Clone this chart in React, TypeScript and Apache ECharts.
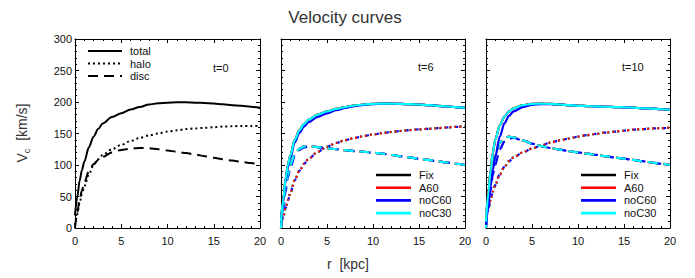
import React, { useEffect, useRef } from "react";
import * as echarts from "echarts";

// radius grid (kpc)
const R = [0, 0.25, 0.5, 0.75, 1, 1.5, 2, 2.5, 3, 4, 5, 6, 7, 8, 9, 10, 11, 12, 13, 14, 15, 16, 17, 18, 19, 20];

// t = 0
const total0 = [20, 50, 75, 92, 105, 128, 145, 157, 166, 176, 182, 188, 192, 196, 198, 199, 199.5, 199.5, 199, 198.5, 197.5, 196.5, 195, 194, 192.5, 191];
const halo0 = [5, 22, 40, 54, 66, 85, 100, 109, 116, 125, 132, 138, 143, 147, 150, 153, 155, 157, 158, 159, 160, 161, 161.5, 162, 162, 162];
const disc0 = [0, 25, 45, 60, 72, 90, 101, 108, 113, 120, 124, 126, 127, 126.5, 125, 123, 121, 119, 116.5, 114, 111.5, 109, 107, 105, 103, 101];

// t = 6
const total6 = [10, 45, 78, 100, 115, 140, 155, 165, 172, 180, 185, 189, 192, 194.5, 196, 197, 197.5, 197.5, 197, 196.5, 196, 195, 194, 193, 192, 191];
const total6NoC60 = [10, 42, 74, 96, 111, 136, 151, 161, 168, 176.5, 182, 187, 190.5, 193.5, 195.5, 196.5, 197.5, 197.5, 197, 196.5, 196, 195, 194, 193, 192, 191];
const halo6 = [5, 18, 32, 44, 55, 76, 91, 102, 110, 121, 129, 135, 139.5, 143, 146, 148.5, 150.5, 152.5, 154, 155.5, 156.5, 157.5, 158.5, 159.5, 160.5, 161.5];
const disc6 = [0, 35, 65, 85, 100, 117, 126, 129.5, 130, 128.5, 126.5, 125, 123.5, 122, 121, 119.5, 118, 116, 114, 112, 110, 108, 106, 104, 102, 100];
const disc6NoC60 = [0, 30, 58, 80, 95, 114, 124, 128, 129.5, 128.5, 126.5, 125, 123.5, 122, 121, 119.5, 118, 116, 114, 112, 110, 108, 106, 104, 102, 100];

// t = 10
const total10 = [10, 55, 92, 120, 140, 163, 177, 185, 190, 195, 197, 197.5, 197, 196, 195, 194, 193.5, 193, 192.5, 192, 191.5, 191, 190, 189.5, 188.5, 188];
const total10NoC60 = [5, 35, 66, 92, 113, 145, 166, 178, 185, 192, 195.5, 196.5, 196.5, 196, 195, 194, 193.5, 193, 192.5, 192, 191.5, 191, 190, 189.5, 188.5, 188];
const halo10 = [10, 30, 45, 58, 68, 85, 97, 106, 112, 120, 126, 131, 135.5, 139, 142, 145, 147.5, 149.5, 151.5, 153, 154.5, 156, 157, 158, 158.5, 159];
const disc10 = [0, 40, 75, 100, 115, 135, 143, 145, 144, 139, 134, 130, 127, 124.5, 122, 120, 118, 116, 114, 112, 110, 108, 106, 104, 102, 100];
const disc10NoC60 = [0, 30, 60, 85, 100, 125, 137, 142, 143, 139, 134, 130, 127, 124.5, 122, 120, 118, 116, 114, 112, 110, 108, 106, 104, 102, 100];

const models = ["Fix", "A60", "noC60", "noC30"];
const modelColors = ["#000000", "#ff0000", "#0000ff", "#00ffff"];
const components0 = ["total", "halo", "disc"];
const timeLabels = ["t=0", "t=6", "t=10"];
const xTicks = [0, 20];
const yTicks = [0, 300];

const FONT = "Liberation Sans, Arial, sans-serif";
const DOT = [2, 3];
const DASH = [10, 6];

const grids = [
  { left: 75, top: 39, width: 185, height: 189 },
  { left: 281, top: 39, width: 184, height: 189 },
  { left: 486, top: 39, width: 184, height: 189 },
];

function pts(arr: number[]) {
  return R.map((r, i) => [r, arr[i]]);
}

export default function App() {
  const ref = useRef<HTMLDivElement>(null);
  useEffect(() => {
    if (!ref.current) return;
    const chart = echarts.init(ref.current, null, { renderer: "svg" });

    const axisBase = {
      type: "value",
      axisLine: { show: true, onZero: false, lineStyle: { color: "#000", width: 1 } },
      axisTick: { show: true, inside: true, length: 4, lineStyle: { color: "#000" } },
      minorTick: { show: true, splitNumber: 5, length: 2, lineStyle: { color: "#000" } },
      splitLine: { show: false },
    };
    const xAxes: any[] = [];
    const yAxes: any[] = [];
    grids.forEach((_, i) => {
      xAxes.push({
        ...axisBase,
        gridIndex: i,
        min: xTicks[0],
        max: xTicks[1],
        interval: 5,
        position: "bottom",
        axisLabel: { fontSize: 11, color: "#111", fontFamily: FONT, margin: 7 },
      });
    });
    grids.forEach((_, i) => {
      xAxes.push({
        ...axisBase,
        gridIndex: i,
        min: xTicks[0],
        max: xTicks[1],
        interval: 5,
        position: "top",
        axisLabel: { show: false },
      });
    });
    grids.forEach((_, i) => {
      yAxes.push({
        ...axisBase,
        gridIndex: i,
        min: yTicks[0],
        max: yTicks[1],
        interval: 50,
        position: "left",
        axisLabel: { show: i === 0, fontSize: 11, color: "#111", fontFamily: FONT, margin: 3 },
      });
    });
    grids.forEach((_, i) => {
      yAxes.push({
        ...axisBase,
        gridIndex: i,
        min: yTicks[0],
        max: yTicks[1],
        interval: 50,
        position: "right",
        axisLabel: { show: false },
      });
    });

    const series: any[] = [];
    const line = (gi: number, name: string, arr: number[], color: string, width: number, type: any, offset = 0) => {
      series.push({
        type: "line",
        name,
        xAxisIndex: gi,
        yAxisIndex: gi,
        data: pts(arr),
        showSymbol: false,
        symbol: "none",
        smooth: 0.3,
        smoothMonotone: "x",
        silent: true,
        lineStyle: { color, width, type, dashOffset: offset },
      });
    };

    // panel t=0
    line(0, "total", total0, "#000", 2, "solid");
    line(0, "halo", halo0, "#000", 2, DOT);
    line(0, "disc", disc0, "#000", 2, DASH);

    // panel t=6 and t=10
    const panels = [
      { gi: 1, total: total6, totalB: total6NoC60, halo: halo6, disc: disc6, discB: disc6NoC60 },
      { gi: 2, total: total10, totalB: total10NoC60, halo: halo10, disc: disc10, discB: disc10NoC60 },
    ];
    panels.forEach((p) => {
      line(p.gi, "Fix halo", p.halo, modelColors[0], 2.2, DOT);
      line(p.gi, "noC30 halo", p.halo, modelColors[3], 2.2, DOT);
      line(p.gi, "A60 halo", p.halo, modelColors[1], 2.2, DOT);
      line(p.gi, "noC60 halo", p.halo, modelColors[2], 2.2, [2, 8], 2.5);
      models.forEach((m, k) => {
        line(p.gi, m + " disc", m === "noC60" ? p.discB : p.disc, modelColors[k], 2.2, DASH);
      });
      models.forEach((m, k) => {
        line(p.gi, m + " total", m === "noC60" ? p.totalB : p.total, modelColors[k], 2.2, "solid");
      });
    });

    const graphics: any[] = [];
    const txt = (x: number, y: number, text: string, size = 11, align = "left", fill = "#111") =>
      graphics.push({
        type: "text",
        x,
        y,
        style: { text, font: `${size}px ${FONT}`, fill, align, verticalAlign: "middle" },
        silent: true,
      });
    const seg = (x1: number, x2: number, y: number, color: string, width: number, dash?: number[]) =>
      graphics.push({
        type: "line",
        shape: { x1, y1: y, x2, y2: y },
        style: { stroke: color, lineWidth: width, lineDash: dash || null },
        silent: true,
      });

    // panel 1 legend
    const dashes0 = [null, DOT, DASH];
    components0.forEach((c, k) => {
      const y = 51 + k * 12.5;
      seg(88, 122, y, "#000", 2, dashes0[k] as any);
      txt(130, y, c);
    });
    // panels 2,3 legends
    [376, 581].forEach((x0) => {
      models.forEach((m, k) => {
        const y = 175 + k * 12.7;
        seg(x0, x0 + 35, y, modelColors[k], 2.6);
        txt(x0 + 43, y, m);
      });
    });
    // t labels
    txt(213, 68, timeLabels[0]);
    txt(418, 67, timeLabels[1]);
    txt(622, 67, timeLabels[2]);

    // title
    txt(345, 17, "Velocity curves", 17, "center", "#333");
    // x axis title
    txt(348, 264, "r  [kpc]", 14, "center", "#333");
    // y axis title
    graphics.push({
      type: "text",
      x: 22,
      y: 133,
      rotation: Math.PI / 2,
      silent: true,
      style: {
        text: "{v|V}{c|c}{v|  [km/s]}",
        align: "center",
        verticalAlign: "middle",
        fill: "#333",
        rich: {
          v: { fontSize: 14, fontFamily: FONT, fill: "#333", lineHeight: 18 },
          c: { fontSize: 9, fontFamily: FONT, fill: "#333", verticalAlign: "bottom", lineHeight: 12 },
        },
      },
    });

    chart.setOption({
      animation: false,
      backgroundColor: "#fff",
      grid: grids.map((g) => ({ ...g, containLabel: false })),
      xAxis: xAxes,
      yAxis: yAxes,
      series,
      graphic: graphics,
    });
    return () => chart.dispose();
  }, []);
  return (
    <div
      ref={ref}
      style={{ position: "fixed", left: 0, top: 0, width: 695, height: 278 }}
    />
  );
}
